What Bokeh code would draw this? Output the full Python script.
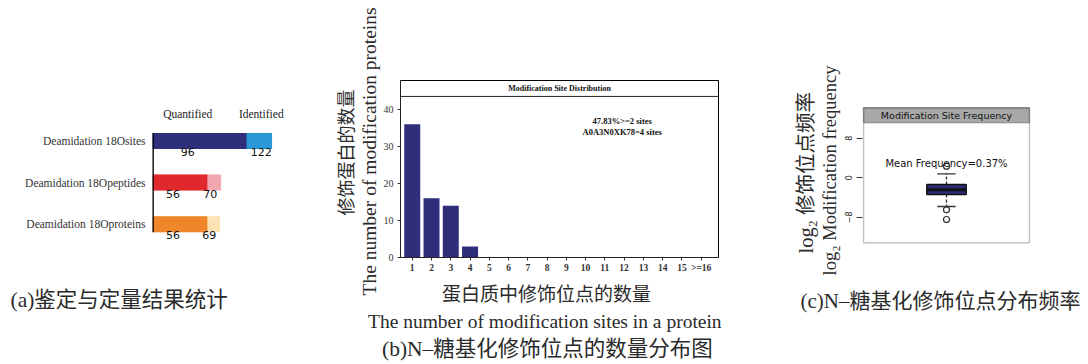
from bokeh.core.properties import value
from bokeh.embed import file_html
from bokeh.layouts import row
from bokeh.models import BoxAnnotation, FixedTicker, Range1d, Span, Title
from bokeh.plotting import figure
from bokeh.resources import INLINE

SERIF = "Liberation Serif, Noto Sans CJK SC"
TIMES = "Liberation Serif"
SANS = "DejaVu Sans"
TEXT = "#2a2a2a"

# ---- (a) identified / quantified counts -------------------------------------
levels = ["Deamidation 18Oproteins", "Deamidation 18Opeptides", "Deamidation 18Osites"]
quantified = [56, 56, 96]
identified = [69, 70, 122]
quant_colors = ["#ef8629", "#e0282d", "#2e2f7b"]
ident_colors = ["#fde2b3", "#f2a6ad", "#2b98d6"]

# ---- (b) number of proteins by number of modification sites -----------------
site_numbers = list(range(1, 17))
protein_counts = [36, 16, 14, 3, 0, 0, 0, 0, 0, 0, 0, 0, 0, 0, 0, 0]
top_protein = "A0A3N0XK78"
top_protein_sites = 4

# ---- (c) log2 modification-site frequency (box statistics) ------------------
box_q1, box_median, box_q3 = -3.38, -2.43, -1.36
whisker_low, whisker_high = -5.81, 0.81
outliers = [2.35, -6.48, -8.44]
mean_frequency = "0.37%"

# all three plot frames share the same top/bottom borders inside the row
BORDER_TOP, BORDER_BOTTOM = 80, 107


def bare(p):
    p.xgrid.visible = False
    p.ygrid.visible = False
    p.background_fill_color = "white"
    p.border_fill_color = "white"


def side_title(p, text, place, size, align="left", offset=0, standoff=0,
               valign="middle", font=SERIF):
    p.add_layout(Title(text=text, align=align, offset=offset, standoff=standoff,
                       vertical_align=valign, text_font=font,
                       text_font_size=size, text_font_style="normal",
                       text_color=TEXT), place)


def plain_ticks(ax, out=0):
    ax.major_tick_out = out
    ax.major_tick_in = 0
    ax.minor_tick_out = 0
    ax.minor_tick_in = 0


# ============================ panel (a) =======================================
bar_h = 0.385
ya = list(range(len(levels)))
pa = figure(width=330, height=364, title=None, toolbar_location=None,
            output_backend="svg", x_range=Range1d(0, 150),
            y_range=Range1d(-0.80, 3.454),
            min_border_left=152, min_border_right=31,
            min_border_top=BORDER_TOP, min_border_bottom=BORDER_BOTTOM)
bare(pa)
pa.outline_line_color = None
pa.hbar(y=ya, left=0, right=identified, height=bar_h,
        fill_color=ident_colors, line_color=None)
pa.hbar(y=ya, left=0, right=quantified, height=bar_h,
        fill_color=quant_colors, line_color=None)
# baseline bar running from the lowest to the highest category bar
pa.segment(x0=[0], x1=[0], y0=[ya[0] - bar_h / 2], y1=[ya[-1] + bar_h / 2],
           line_color="black", line_width=2.7)

pa.xaxis.visible = False
pa.yaxis.ticker = FixedTicker(ticks=ya)
pa.yaxis.major_label_overrides = {i: lab for i, lab in enumerate(levels)}
pa.yaxis.axis_line_color = None
plain_ticks(pa.yaxis)
pa.yaxis.major_label_standoff = 7
pa.yaxis.major_label_text_font = TIMES
pa.yaxis.major_label_text_font_size = "11.5px"
pa.yaxis.major_label_text_color = "#333333"

pa.text(x=[0.375 * q for q in quantified] + [i - 11 for i in identified],
        y=[y - bar_h / 2 for y in ya] * 2,
        text=[str(q) for q in quantified] + [str(i) for i in identified],
        text_align="center", text_baseline="top", y_offset=-1,
        text_font=value(SANS), text_font_size="11px", text_color="#111111")
pa.text(x=[0.375 * quantified[-1], identified[-1] - 11],
        y=[ya[-1] + bar_h / 2 + 0.46] * 2,
        text=["Quantified", "Identified"],
        text_align="center", text_baseline="middle",
        text_font=value(TIMES), text_font_size="11.5px", text_color="#222222")
side_title(pa, "(a)鉴定与定量结果统计", "below", "21.5px", offset=-142,
           standoff=59)

# ============================ panel (b) =======================================
xb0, xb1 = 0.39, 16.9
yb0, yb1 = 0, 47.8
strip_b = 43.5
pb = figure(width=460, height=364, title=None, toolbar_location=None,
            output_backend="svg", x_range=Range1d(xb0, xb1),
            y_range=Range1d(yb0, yb1),
            min_border_left=70, min_border_right=72,
            min_border_top=BORDER_TOP, min_border_bottom=BORDER_BOTTOM)
bare(pb)
pb.outline_line_color = "black"
pb.outline_line_width = 1
pb.vbar(x=site_numbers, top=protein_counts, width=0.83,
        fill_color="#2e2e7a", line_color=None)
pb.add_layout(Span(location=strip_b, dimension="width",
                   line_color="#222222", line_width=1))
pb.text(x=[(xb0 + xb1) / 2], y=[(strip_b + yb1) / 2],
        text=["Modification Site Distribution"], text_align="center",
        text_baseline="middle", text_font=value(TIMES), text_font_size="8px",
        text_font_style="bold", text_color="#111111")

multi = 100 * sum(protein_counts[1:]) / sum(protein_counts)
pb.text(x=[11.9, 11.9], y=[36.8, 34.0],
        text=[f"{multi:.2f}%>=2 sites", f"{top_protein}={top_protein_sites} sites"],
        text_align="center", text_baseline="middle", text_font=value(TIMES),
        text_font_size="8.5px", text_font_style="bold", text_color="#111111")

pb.yaxis.ticker = FixedTicker(ticks=[0, 10, 20, 30, 40])
pb.xaxis.ticker = FixedTicker(ticks=site_numbers)
pb.xaxis.major_label_overrides = {site_numbers[-1]: f">={site_numbers[-1]}"}
for ax in (pb.xaxis, pb.yaxis):
    ax.axis_line_color = "#222222"
    plain_ticks(ax, 3)
    ax.major_tick_line_color = "#333333"
    ax.major_label_text_font = TIMES
    ax.major_label_text_color = "#333333"
pb.yaxis.major_label_text_font_size = "10px"
pb.yaxis.major_label_standoff = 4
pb.xaxis.major_label_text_font_size = "9.5px"
pb.xaxis.major_label_text_font_style = "bold"
pb.xaxis.major_label_standoff = 2

side_title(pb, "The number of modification proteins", "left", "19.5px",
           offset=-38)
side_title(pb, "修饰蛋白的数量", "left", "18px", offset=42)
side_title(pb, "蛋白质中修饰位点的数量", "below", "19px", offset=41.5,
           standoff=12, valign="bottom")
side_title(pb, "The number of modification sites in a protein", "below",
           "19.5px", offset=-32.5, standoff=1, valign="top")
side_title(pb, "(b)N–糖基化修饰位点的数量分布图", "below", "21.5px",
           offset=-18.5, standoff=0, valign="bottom")

# ============================ panel (c) =======================================
yc0, yc1 = -16.13, 19.70          # frame range
box_bottom, box_top = -13.16, 14.17  # plotting box drawn inside the frame
strip_c = 11.13
box_w = 0.237
cap_w = 0.11
pc = figure(width=298, height=364, title=None, toolbar_location=None,
            output_backend="svg", x_range=Range1d(0.494, 1.506),
            y_range=Range1d(yc0, yc1),
            min_border_left=72, min_border_right=58,
            min_border_top=BORDER_TOP, min_border_bottom=BORDER_BOTTOM)
bare(pc)
pc.outline_line_color = None
pc.add_layout(BoxAnnotation(left=0.5, right=1.5, bottom=strip_c, top=box_top,
                            fill_color="#a8a8a8", fill_alpha=1,
                            line_color="#333333", line_width=1.5,
                            level="underlay"))
pc.add_layout(BoxAnnotation(left=0.5, right=1.5, bottom=box_bottom, top=box_top,
                            fill_alpha=0, line_color="#333333", line_width=1.5,
                            level="underlay"))
pc.text(x=[1], y=[(strip_c + box_top) / 2], text=["Modification Site Frequency"],
        text_align="center", text_baseline="middle", text_font=value(SANS),
        text_font_size="9.5px", text_color="#111111")

# whiskers, caps, box, median, outliers
pc.segment(x0=[1, 1], x1=[1, 1], y0=[box_q3, box_q1], y1=[whisker_high, whisker_low],
           line_color="#333333", line_width=1.3, line_dash="3 2")
pc.segment(x0=[1 - cap_w / 2] * 2, x1=[1 + cap_w / 2] * 2,
           y0=[whisker_high, whisker_low], y1=[whisker_high, whisker_low],
           line_color="#333333", line_width=1.3)
pc.vbar(x=[1], bottom=[box_q1], top=[box_q3], width=box_w,
        fill_color="#2c2b78", line_color="#111111", line_width=1.5)
pc.segment(x0=[1 - box_w / 2], x1=[1 + box_w / 2], y0=[box_median], y1=[box_median],
           line_color="#111111", line_width=3)
pc.scatter(x=[1] * len(outliers), y=outliers, marker="circle", size=6,
           fill_color=None, line_color="#333333", line_width=1.2)
pc.text(x=[1], y=[2.83], text=[f"Mean Frequency={mean_frequency}"],
        text_align="center", text_baseline="middle", text_font=value(SANS),
        text_font_size="10px", text_color="#111111")

pc.xaxis.visible = False
pc.yaxis.ticker = FixedTicker(ticks=[-8, 0, 8])
pc.yaxis.axis_line_color = None
plain_ticks(pc.yaxis, 6)
pc.yaxis.major_tick_line_color = "#333333"
pc.yaxis.major_label_orientation = "vertical"
pc.yaxis.major_label_text_font = SANS
pc.yaxis.major_label_text_font_size = "8px"
pc.yaxis.major_label_text_color = "#222222"
pc.yaxis.major_label_standoff = 4

side_title(pc, "log₂ Modification frequency", "left", "18.5px", offset=-18,
           standoff=3)
side_title(pc, "log₂ 修饰位点频率", "left", "20.5px", offset=4)
side_title(pc, "(c)N–糖基化修饰位点分布频率", "below", "21px", offset=-62,
           standoff=60)

layout = row(pa, pb, pc)
open("out.html", "w").write(file_html(layout, INLINE))
